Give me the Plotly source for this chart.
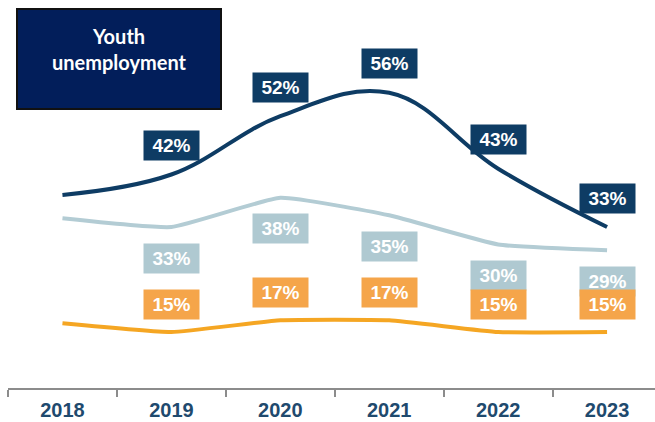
import plotly.graph_objects as go

years = ["2018", "2019", "2020", "2021", "2022", "2023"]
youth = [38.5, 42, 52, 56, 43, 33]
middle = [34.5, 33, 38, 35, 30, 29]
lower = [16.5, 15, 17, 17, 15, 15]

# labels shown in boxes (2018 has none)
youth_lbl = [None, "42%", "52%", "56%", "43%", "33%"]
middle_lbl = [None, "33%", "38%", "35%", "30%", "29%"]
lower_lbl = [None, "15%", "17%", "17%", "15%", "15%"]

NAVY = "#0E3C64"
LIGHT = "#B3CCD4"
LIGHT_BOX = "#AFC9D1"
ORANGE = "#F5A623"
ORANGE_BOX = "#F5A54A"

W, H = 655, 422
ML, MR, MT, MB = 8, 0, 10, 34


def px_x(x):
    return (x - ML) / (W - ML - MR)


def px_y(y):
    return (H - MB - y) / (H - MT - MB)


fig = go.Figure()
fig.add_trace(go.Scatter(x=years, y=lower, mode="lines",
                         line=dict(color=ORANGE, width=4, shape="spline", smoothing=0.4),
                         hoverinfo="skip"))
fig.add_trace(go.Scatter(x=years, y=middle, mode="lines",
                         line=dict(color=LIGHT, width=4, shape="spline", smoothing=0.4),
                         hoverinfo="skip"))
fig.add_trace(go.Scatter(x=years, y=youth, mode="lines",
                         line=dict(color=NAVY, width=4, shape="spline", smoothing=1.1),
                         hoverinfo="skip"))

annotations = []


def add_labels(values, labels, color, shift):
    # category axis: annotations need the category index, not the name
    for i, (v, t) in enumerate(zip(values, labels)):
        if t is None:
            continue
        annotations.append(dict(
            x=i, y=v, text="<b>%s</b>" % t, showarrow=False, yshift=shift,
            bgcolor=color, width=51, height=25, borderpad=2,
            font=dict(family="Liberation Sans, Arial, sans-serif", size=19, color="white"),
        ))


add_labels(youth, youth_lbl, NAVY, 29)
add_labels(middle, middle_lbl, LIGHT_BOX, -31)
add_labels(lower, lower_lbl, ORANGE_BOX, 28)

annotations.append(dict(
    xref="paper", yref="paper", x=px_x(119), y=px_y(49),
    xanchor="center", yanchor="middle",
    text="<b>Youth<br>unemployment</b>", showarrow=False,
    font=dict(family="Lato, sans-serif", size=20, color="white"),
    align="center",
))

fig.update_layout(
    width=W, height=H,
    margin=dict(l=ML, r=MR, t=MT, b=MB),
    plot_bgcolor="white", paper_bgcolor="white",
    showlegend=False,
    annotations=annotations,
    shapes=[dict(type="rect", xref="paper", yref="paper",
                 x0=px_x(17), x1=px_x(221), y0=px_y(109), y1=px_y(9),
                 fillcolor="#021E5A", line=dict(color="#111111", width=2), layer="below")],
    xaxis=dict(type="category", range=[-0.5, 5.44], showgrid=False, zeroline=False,
               showline=True, linecolor="#8C8C8C", linewidth=1.5,
               ticks="outside", tickson="boundaries", ticklen=7, tickcolor="#8C8C8C",
               tickwidth=1.5, ticklabelstandoff=3,
               tickfont=dict(family="Liberation Sans, Arial, sans-serif", size=20, color="#1F4A6E"),
               tickprefix="<b>", ticksuffix="</b>"),
    yaxis=dict(range=[5.4, 70.2], visible=False, showgrid=False, zeroline=False),
)

fig.write_html("out.html", config={"displayModeBar": False},
               post_script="document.body.style.margin='0';")
